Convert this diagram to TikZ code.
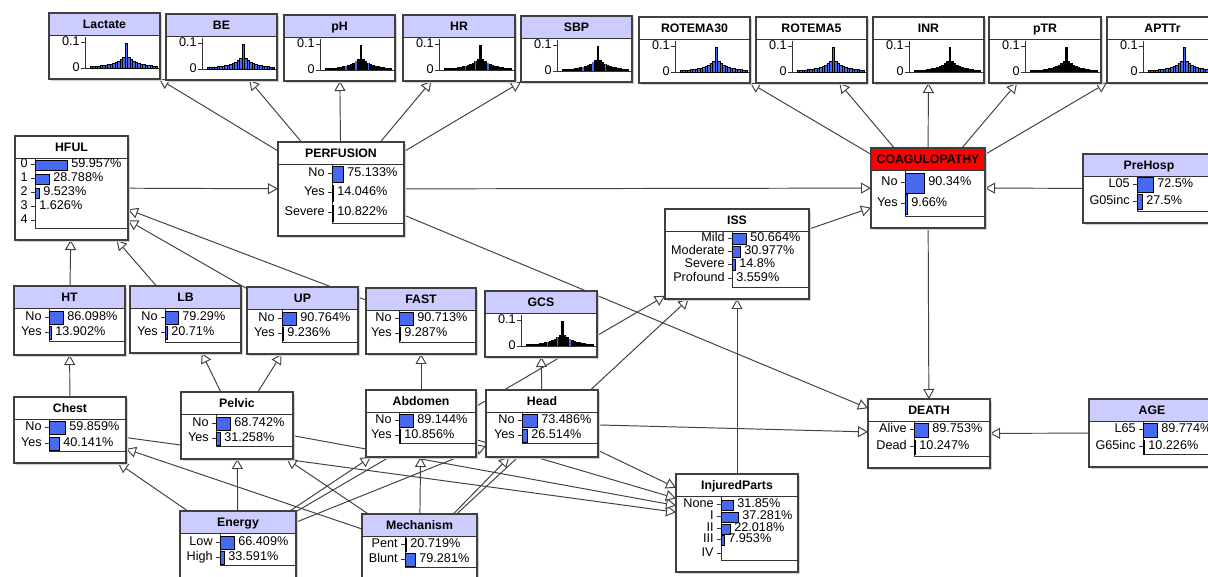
\documentclass[tikz,border=0pt]{standalone}
\usepackage{fontspec}
\newfontfamily\bnfam{Liberation Sans}
\usetikzlibrary{arrows.meta,fit}

\definecolor{bnlav}{RGB}{204,204,255}
\definecolor{bnblue}{RGB}{72,104,240}
\definecolor{bnred}{RGB}{255,0,0}

\pgfdeclarelayer{edges}
\pgfsetlayers{edges,main}

\newcommand{\bnsmall}{\bnfam\fontsize{7.2}{8}\selectfont}
\newcommand{\bnbold}{\bnfam\bfseries\fontsize{7}{8}\selectfont}

\tikzset{
  bnbox/.style={inner sep=0pt, outer sep=0pt, fill=white},
  bnborder/.style={draw=black!75, line width=.8pt},
  bnline/.style={draw=black!80, line width=.5pt},
  bntitle/.style={font=\bnbold, inner sep=0pt},
  bntext/.style={font=\bnsmall, inner sep=0pt},
  bnbar/.style={fill=bnblue, draw=black, line width=.5pt},
  hblue/.style={fill=bnblue, draw=black, line width=.2pt},
  hblack/.style={fill=black},
  haccent/.style={draw=bnblue, line width=.7pt},
  hnone/.style={},
  link/.style={draw=black!75, line width=.55pt, -{Triangle[length=2mm, width=2.2mm, fill=white]}}
}

% box with title bar: name, x1, y1, x2, y2, title, title colour
\newcommand{\bnnode}[7]{%
  \fill[black!18] (#2+2,#3+2) rectangle (#4+2,#5+2);
  \node[bnbox, fit={(#2,#3) (#4,#5)}] (#1) {};
  \fill[#7] (#2,#3) rectangle (#4,#3+22);
  \draw[bnborder] (#1.north west) rectangle (#1.south east);
  \draw[bnline] (#2,#3+22) -- (#4,#3+22);
  \node[bntitle, anchor=base] (#1-title) at ({(#2+#4)/2},#3+15.5) {#6};
}

% frame round the bars: bar left, y1, bottom, x2
\newcommand{\bnframe}[4]{%
  \draw[bnline] (#1,#2+22) -- (#1,#3) -- (#4,#3);
}

% one state: node, bar left, y, state, bar length, text, bar height
\newcommand{\bnrow}[7]{%
  \node[bntext, anchor=base east] (#1-#4) at (#2-7,#3+3.5) {#4};
  \draw[bnline] (#2-4,#3) -- (#2,#3);
  \ifdim #5pt>0pt
    \filldraw[bnbar] (#2,{#3-#7/2+1}) rectangle (#2+#5,{#3+#7/2+1});
  \fi
  \node[bntext, anchor=base west] (#1-#4-p) at (#2+#5+4,#3+3.5) {#6};
}

% continuous node with histogram: name, x1, y1, x2, title, colour, bar style, accent style
\newcommand{\bnhist}[8]{%
  \bnnode{#1}{#2}{#3}{#4}{#3+66}{#5}{#6}
  \draw[bnline] (#2+36,#3+24) -- (#2+36,#3+55) -- (#4,#3+55);
  \draw[bnline] (#2+32,#3+29) -- (#2+36,#3+29);
  \draw[bnline] (#2+32,#3+55) -- (#2+36,#3+55);
  \node[bntext, anchor=base east] (#1-top) at (#2+31,#3+32.5) {0.1};
  \node[bntext, anchor=base east] (#1-zero) at (#2+31,#3+58.5) {0};
  \foreach \i in {-13,...,13}{
    \pgfmathsetmacro{\hh}{ifthenelse(\i==1,25,1.5+12*exp(-abs(\i-1)/4))}
    \path[#7] ({(#2+36+#4)/2+1+2.5*\i-1.25},#3+55) rectangle +(2.5,-\hh);
  }
  \foreach \i in {-5,-1,4}{
    \pgfmathsetmacro{\hh}{1.5+12*exp(-abs(\i-1)/4)}
    \path[#8] ({(#2+36+#4)/2+1+2.5*\i},#3+55) -- +(0,-\hh);
  }
}

\begin{document}
\begin{tikzpicture}[x=0.02cm,y=-0.02cm]
  \useasboundingbox (0,0) rectangle (1208,577);
  \clip (0,0) rectangle (1208,577);

  % top row
  \bnhist{lactate}{49}{13}{160}{Lactate}{bnlav}{hblue}{hnone}
  \bnhist{be}{166}{14}{277}{BE}{bnlav}{hblue}{hnone}
  \bnhist{ph}{284}{15}{395}{pH}{bnlav}{hblack}{haccent}
  \bnhist{hr}{403}{15}{515}{HR}{bnlav}{hblack}{haccent}
  \bnhist{sbp}{521}{16}{632}{SBP}{bnlav}{hblack}{haccent}
  \bnhist{rotema30}{639}{17}{750}{ROTEMA30}{white}{hblue}{hnone}
  \bnhist{rotema5}{756}{17}{867}{ROTEMA5}{white}{hblue}{hnone}
  \bnhist{inr}{873}{17}{984}{INR}{white}{hblack}{hnone}
  \bnhist{ptr}{989}{17}{1101}{pTR}{white}{hblack}{hnone}
  \bnhist{apttr}{1107}{17}{1218}{APTTr}{white}{hblue}{hnone}

  % HFUL
  \bnnode{hful}{15}{136}{128}{240}{HFUL}{white}
  \bnframe{35}{136}{228}{128}
  \bnrow{hful}{35}{164}{0}{32}{59.957\%}{10}
  \bnrow{hful}{35}{178}{1}{14}{28.788\%}{10}
  \bnrow{hful}{35}{192}{2}{4}{9.523\%}{10}
  \bnrow{hful}{35}{206}{3}{0}{1.626\%}{10}
  \bnrow{hful}{35}{220}{4}{0}{}{10}

  % PERFUSION
  \bnnode{perfusion}{278}{142}{404}{236}{PERFUSION}{white}
  \bnframe{332}{142}{223}{404}
  \bnrow{perfusion}{332}{173}{No}{11}{75.133\%}{16}
  \bnrow{perfusion}{332}{192}{Yes}{1}{14.046\%}{16}
  \bnrow{perfusion}{332}{212}{Severe}{1}{10.822\%}{16}

  % COAGULOPATHY
  \bnnode{coag}{871}{148}{985}{228}{COAGULOPATHY}{bnred}
  \bnframe{905}{148}{216}{985}
  \bnrow{coag}{905}{182}{No}{19}{90.34\%}{20}
  \bnrow{coag}{905}{203}{Yes}{2}{9.66\%}{20}

  % PreHosp
  \bnnode{prehosp}{1083}{154}{1215}{223}{PreHosp}{bnlav}
  \bnframe{1137}{154}{211}{1215}
  \bnrow{prehosp}{1137}{184}{L05}{16}{72.5\%}{15}
  \bnrow{prehosp}{1137}{201}{G05inc}{5}{27.5\%}{15}

  % ISS
  \bnnode{iss}{665}{209}{809}{299}{ISS}{white}
  \bnframe{732}{209}{287}{809}
  \bnrow{iss}{732}{238}{Mild}{14}{50.664\%}{11}
  \bnrow{iss}{732}{251}{Moderate}{8}{30.977\%}{11}
  \bnrow{iss}{732}{264}{Severe}{3}{14.8\%}{11}
  \bnrow{iss}{732}{278}{Profound}{0}{3.559\%}{11}

  % HT, LB, UP, FAST, GCS
  \bnnode{ht}{14}{286}{125}{355}{HT}{bnlav}
  \bnframe{49}{286}{341}{125}
  \bnrow{ht}{49}{317}{No}{14}{86.098\%}{13}
  \bnrow{ht}{49}{332}{Yes}{2}{13.902\%}{13}

  \bnnode{lb}{130}{286}{241}{353}{LB}{bnlav}
  \bnframe{165}{286}{342}{241}
  \bnrow{lb}{165}{317}{No}{13}{79.29\%}{13}
  \bnrow{lb}{165}{332}{Yes}{2}{20.71\%}{13}

  \bnnode{up}{247}{287}{358}{354}{UP}{bnlav}
  \bnframe{282}{287}{342}{358}
  \bnrow{up}{282}{318}{No}{14}{90.764\%}{13}
  \bnrow{up}{282}{333}{Yes}{1}{9.236\%}{13}

  \bnnode{fast}{366}{288}{476}{354}{FAST}{bnlav}
  \bnframe{399}{288}{342}{476}
  \bnrow{fast}{399}{318}{No}{14}{90.713\%}{13}
  \bnrow{fast}{399}{333}{Yes}{1}{9.287\%}{13}

  \bnhist{gcs}{485}{291}{597}{GCS}{bnlav}{hblack}{haccent}

  % injuries
  \bnnode{chest}{14}{397}{126}{463}{Chest}{white}
  \bnframe{49}{397}{451}{126}
  \bnrow{chest}{49}{427}{No}{16}{59.859\%}{13}
  \bnrow{chest}{49}{443}{Yes}{10}{40.141\%}{13}

  \bnnode{pelvic}{181}{392}{293}{459}{Pelvic}{white}
  \bnframe{216}{392}{446}{293}
  \bnrow{pelvic}{216}{423}{No}{14}{68.742\%}{13}
  \bnrow{pelvic}{216}{438}{Yes}{4}{31.258\%}{13}

  \bnnode{abdomen}{366}{390}{476}{457}{Abdomen}{white}
  \bnframe{399}{390}{443}{476}
  \bnrow{abdomen}{399}{420}{No}{14}{89.144\%}{13}
  \bnrow{abdomen}{399}{435}{Yes}{1}{10.856\%}{13}

  \bnnode{head}{486}{390}{598}{457}{Head}{white}
  \bnframe{522}{390}{443}{598}
  \bnrow{head}{522}{420}{No}{15}{73.486\%}{13}
  \bnrow{head}{522}{435}{Yes}{5}{26.514\%}{13}

  % DEATH and AGE
  \bnnode{death}{868}{399}{990}{468}{DEATH}{white}
  \bnframe{914}{399}{456}{990}
  \bnrow{death}{914}{429}{Alive}{14}{89.753\%}{14}
  \bnrow{death}{914}{446}{Dead}{1}{10.247\%}{14}

  \bnnode{age}{1089}{399}{1215}{467}{AGE}{bnlav}
  \bnframe{1143}{399}{454}{1215}
  \bnrow{age}{1143}{429}{L65}{14}{89.774\%}{14}
  \bnrow{age}{1143}{446}{G65inc}{1}{10.226\%}{14}

  % Energy, Mechanism, InjuredParts
  \bnnode{energy}{180}{511}{296}{580}{Energy}{bnlav}
  \bnframe{220}{511}{565}{296}
  \bnrow{energy}{220}{542}{Low}{14}{66.409\%}{13}
  \bnrow{energy}{220}{557}{High}{4}{33.591\%}{13}

  \bnnode{mechanism}{362}{514}{477}{583}{Mechanism}{bnlav}
  \bnframe{405}{514}{567}{477}
  \bnrow{mechanism}{405}{544}{Pent}{1}{20.719\%}{13}
  \bnrow{mechanism}{405}{559}{Blunt}{10}{79.281\%}{13}

  \bnnode{injured}{676}{474}{798}{572}{InjuredParts}{white}
  \bnframe{721}{474}{560}{798}
  \bnrow{injured}{721}{504}{None}{12}{31.85\%}{10}
  \bnrow{injured}{721}{516}{I}{17}{37.281\%}{10}
  \bnrow{injured}{721}{528}{II}{9}{22.018\%}{10}
  \bnrow{injured}{721}{539}{III}{3}{7.953\%}{10}
  \bnrow{injured}{721}{553}{IV}{0}{}{10}

  % links
  \begin{pgfonlayer}{edges}
    \fill[white] (0,0) rectangle (1208,577);

    \draw[link] (perfusion) -- (lactate);
    \draw[link] (perfusion) -- (be);
    \draw[link] (perfusion) -- (ph);
    \draw[link] (perfusion) -- (hr);
    \draw[link] (perfusion) -- (sbp);

    \draw[link] (coag) -- (rotema30);
    \draw[link] (coag) -- (rotema5);
    \draw[link] (coag) -- (inr);
    \draw[link] (coag) -- (ptr);
    \draw[link] (coag) -- (apttr);

    \draw[link] (hful) -- (perfusion);
    \draw[link] (perfusion) -- (coag);
    \draw[link] (prehosp) -- (coag);
    \draw[link] (iss) -- (coag);
    \draw[link] (coag) -- (death);
    \draw[link] (perfusion) -- (death);
    \draw[link] (head) -- (death);
    \draw[link] (age) -- (death);

    \draw[link] (injured) -- (iss);
    \draw[link] (energy) -- (iss);
    \draw[link] (mechanism) -- (iss);

    \draw[link] (ht) -- (hful);
    \draw[link] (lb) -- (hful);
    \draw[link] (up) -- (hful);
    \draw[link] (fast) -- (hful);

    \draw[link] (chest) -- (ht);
    \draw[link] (pelvic) -- (lb);
    \draw[link] (pelvic) -- (up);
    \draw[link] (abdomen) -- (fast);
    \draw[link] (head) -- (gcs);

    \draw[link] (energy) -- (chest);
    \draw[link] (energy) -- (pelvic);
    \draw[link] (energy) -- (abdomen);
    \draw[link] (energy) -- (head);
    \draw[link] (mechanism) -- (chest);
    \draw[link] (mechanism) -- (pelvic);
    \draw[link] (mechanism) -- (abdomen);
    \draw[link] (mechanism) -- (head);

    \draw[link] (chest) -- (injured.170);
    \draw[link] (pelvic) -- (injured.164);
    \draw[link] (abdomen) -- (injured.158);
    \draw[link] (head) -- (injured.150);
  \end{pgfonlayer}
\end{tikzpicture}
\end{document}
